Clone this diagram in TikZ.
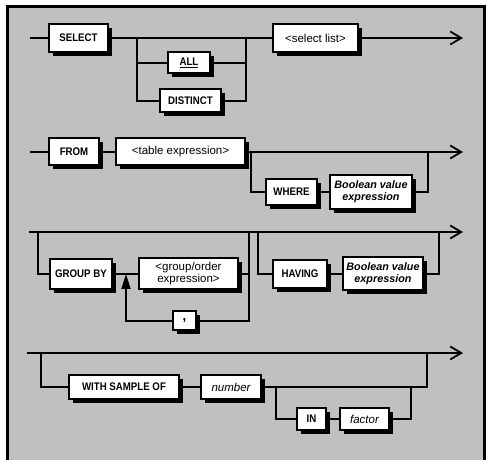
\documentclass[tikz,border=0pt]{standalone}
\usepackage{fontspec}
\setmainfont{Liberation Sans}
\newfontfamily\railfont[FakeStretch=0.88]{Liberation Sans}
\usetikzlibrary{arrows.meta,shadows}
\definecolor{panelgray}{RGB}{192,192,192}
\begin{document}
\begin{tikzpicture}[x=1pt,y=-1pt,line join=miter,
  box/.style={draw,fill=white,line width=2pt,inner sep=0pt,align=center,
    general shadow={fill=black,shadow xshift=4pt,shadow yshift=-4pt},
    font=\railfont\fontsize{11}{12}\selectfont\bfseries},
  plainbox/.style={box,font=\fontsize{11.5}{12}\selectfont},
  boolbox/.style={box,font=\fontsize{10.8}{12}\selectfont\bfseries\itshape},
  itbox/.style={box,font=\fontsize{11.5}{12}\selectfont\itshape},
  rail/.style={line width=1.8pt},
  railend/.style={rail,-{Straight Barb[length=11pt,width=13pt]}}]
  \useasboundingbox (0,0) rectangle (491,468);
  \fill[panelgray] (8,8) rectangle (484,460);
  \draw[line width=3pt] (7.5,460) -- (7.5,6.5) -- (484.5,6.5) -- (484.5,460);

  \node[box,minimum width=59pt,minimum height=28pt] (select) at (78.5,38) {SELECT};
  \node[box,minimum width=42pt,minimum height=21pt] (all) at (189,63) {\underline{ALL}};
  \node[box,minimum width=61pt,minimum height=23pt] (distinct) at (190.5,101) {DISTINCT};
  \node[plainbox,minimum width=85pt,minimum height=28pt] (selectlist) at (315.5,38) {<select list>};
  \coordinate (s0) at (30,38);
  \coordinate (s1) at (137,38);
  \coordinate (s2) at (246,38);
  \coordinate (s3) at (463,38);
  \draw[rail] (s0) -- (select.west);
  \draw[rail] (select.east) -- (selectlist.west);
  \draw[railend] (selectlist.east) -- (s3);
  \draw[rail] (s1) |- (all.west);
  \draw[rail] (s1) |- (distinct.west);
  \draw[rail] (all.east) -| (s2);
  \draw[rail] (distinct.east) -| (s2);

  \node[box,minimum width=50pt,minimum height=27pt] (from) at (74,152) {FROM};
  \node[plainbox,minimum width=129pt,minimum height=27pt] (tableexpr) at (180.5,152) {<table expression>};
  \node[box,minimum width=51pt,minimum height=26pt] (where) at (291.5,192) {WHERE};
  \node[boolbox,minimum width=82pt,minimum height=34pt] (boolwhere) at (371,192) {Boolean value\\expression};
  \coordinate (f0) at (30,152);
  \coordinate (f1) at (251,152);
  \coordinate (f2) at (428,152);
  \coordinate (f3) at (463,152);
  \draw[rail] (f0) -- (from.west);
  \draw[rail] (from.east) -- (tableexpr.west);
  \draw[railend] (tableexpr.east) -- (f3);
  \draw[rail] (f1) |- (where.west);
  \draw[rail] (where.east) -- (boolwhere.west);
  \draw[rail] (boolwhere.east) -| (f2);

  \node[box,minimum width=62pt,minimum height=30pt] (groupby) at (81,274) {GROUP BY};
  \node[plainbox,minimum width=99pt,minimum height=31pt] (grouporder) at (188.5,274) {<group/order\\expression>};
  \node[box,minimum width=23pt,minimum height=19pt,font=\fontsize{13}{13}\selectfont\bfseries] (comma) at (184.5,321) {,};
  \node[box,minimum width=54pt,minimum height=28pt] (having) at (300,274) {HAVING};
  \node[boolbox,minimum width=80pt,minimum height=33pt] (boolhaving) at (383,274) {Boolean value\\expression};
  \coordinate (g0) at (29,232);
  \coordinate (g1) at (38,232);
  \coordinate (g2) at (249,232);
  \coordinate (g3) at (258,232);
  \coordinate (g4) at (439,232);
  \coordinate (g5) at (463,232);
  \coordinate (g6) at (126,274);
  \draw[railend] (g0) -- (g5);
  \draw[rail] (g1) |- (groupby.west);
  \draw[rail] (groupby.east) -- (grouporder.west);
  \draw[rail] (grouporder.east) -| (g2);
  \draw[rail] (g2) |- (comma.east);
  \draw[rail,-{Triangle[length=15pt,width=9pt]}] (comma.west) -| (g6);
  \draw[rail] (g3) |- (having.west);
  \draw[rail] (having.east) -- (boolhaving.west);
  \draw[rail] (boolhaving.east) -| (g4);

  \node[box,minimum width=110pt,minimum height=24pt] (sample) at (124,387) {WITH SAMPLE OF};
  \node[itbox,minimum width=60pt,minimum height=24pt] (number) at (231,387) {number};
  \node[box,minimum width=29pt,minimum height=22pt] (in) at (311.5,419) {IN};
  \node[itbox,minimum width=49pt,minimum height=22pt] (factor) at (364.5,419) {factor};
  \coordinate (w0) at (27,353);
  \coordinate (w1) at (41,353);
  \coordinate (w2) at (427,353);
  \coordinate (w3) at (463,353);
  \coordinate (w4) at (276,387);
  \coordinate (w5) at (411,387);
  \draw[railend] (w0) -- (w3);
  \draw[rail] (w1) |- (sample.west);
  \draw[rail] (sample.east) -- (number.west);
  \draw[rail] (number.east) -| (w2);
  \draw[rail] (w4) |- (in.west);
  \draw[rail] (in.east) -- (factor.west);
  \draw[rail] (factor.east) -| (w5);
\end{tikzpicture}
\end{document}
